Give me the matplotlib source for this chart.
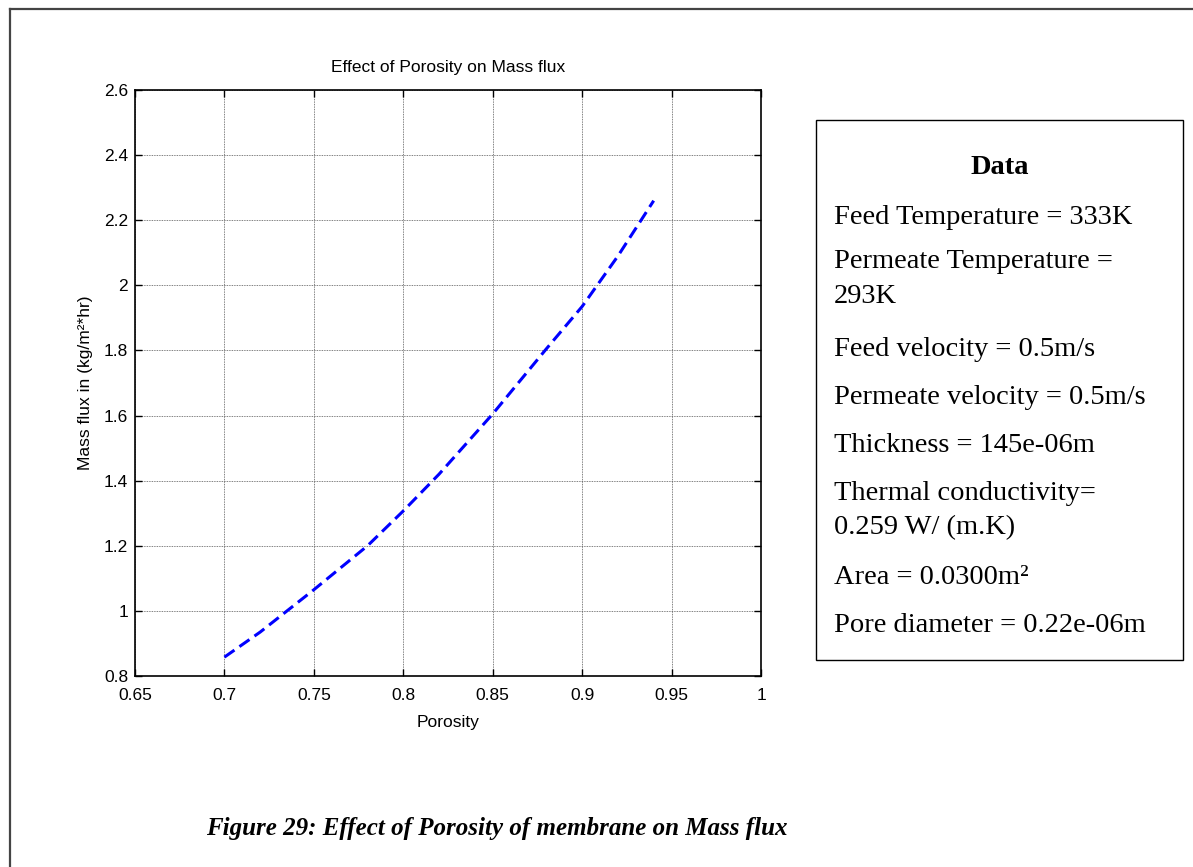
import matplotlib
matplotlib.use("Agg")
import matplotlib.pyplot as plt
from matplotlib.lines import Line2D
from matplotlib.patches import Rectangle

porosity = [0.70, 0.72, 0.75, 0.78, 0.80, 0.82, 0.85, 0.88, 0.90, 0.92, 0.94]
mass_flux = [0.858, 0.935, 1.065, 1.200, 1.307, 1.420, 1.605, 1.805, 1.935, 2.090, 2.260]

x_ticks = [0.65, 0.7, 0.75, 0.8, 0.85, 0.9, 0.95, 1.0]
x_tick_labels = ["0.65", "0.7", "0.75", "0.8", "0.85", "0.9", "0.95", "1"]
y_ticks = [0.8, 1.0, 1.2, 1.4, 1.6, 1.8, 2.0, 2.2, 2.4, 2.6]
y_tick_labels = ["0.8", "1", "1.2", "1.4", "1.6", "1.8", "2", "2.2", "2.4", "2.6"]

title = "Effect of Porosity on Mass flux"
xlabel = "Porosity"
ylabel = "Mass flux in (kg/m\u00b2*hr)"
box_title = "Data"
box_lines = [
    ("Feed Temperature = 333K", 218),
    ("Permeate Temperature =", 261),
    ("293K", 297),
    ("Feed velocity = 0.5m/s", 350),
    ("Permeate velocity = 0.5m/s", 398),
    ("Thickness = 145e-06m", 446),
    ("Thermal conductivity=", 493),
    ("0.259 W/ (m.K)", 528),
    ("Area = 0.0300m\u00b2", 578),
    ("Pore diameter = 0.22e-06m", 626),
]
caption = "Figure 29: Effect of Porosity of membrane on Mass flux"

W, H = 1193, 867
fig = plt.figure(figsize=(W / 100, H / 100), dpi=100)
fig.patch.set_facecolor("white")

def fx(px):
    return px / W

def fy(py):
    return 1 - py / H

# outer page border (top and left visible)
fig.add_artist(Line2D([fx(10), fx(10)], [fy(9), 0], transform=fig.transFigure,
                      color="#444444", lw=1.6))
fig.add_artist(Line2D([fx(10), 1], [fy(9), fy(9)], transform=fig.transFigure,
                      color="#444444", lw=1.6))

ax_l, ax_r, ax_t, ax_b = 135, 761, 90, 676
ax = fig.add_axes([fx(ax_l), fy(ax_b), fx(ax_r - ax_l), (ax_b - ax_t) / H])

sans = "Liberation Sans"
fs = 12.5

ax.plot(porosity, mass_flux, color=(0, 0, 1), lw=2.2, linestyle=(0, (4, 2)))
ax.set_xlim(0.65, 1.0)
ax.set_ylim(0.8, 2.6)
ax.set_xticks(x_ticks)
ax.set_xticklabels(x_tick_labels, fontfamily=sans, fontsize=fs)
ax.set_yticks(y_ticks)
ax.set_yticklabels(y_tick_labels, fontfamily=sans, fontsize=fs)
ax.tick_params(direction="in", length=5, width=1, top=True, right=True,
               colors="black")
ax.tick_params(axis="x", pad=9)
ax.tick_params(axis="y", pad=5)
ax.grid(True, color="#555555", linestyle=(0, (1, 1)), linewidth=0.6)
for s in ax.spines.values():
    s.set_linewidth(1.2)
    s.set_color("black")

ax.set_title(title, fontfamily=sans, fontsize=fs, pad=13)
ax.set_xlabel(xlabel, fontfamily=sans, fontsize=fs, labelpad=8)
ax.set_ylabel(ylabel, fontfamily=sans, fontsize=fs, labelpad=8)

# data box
bx_l, bx_t, bx_r, bx_b = 816, 120, 1183, 660
fig.add_artist(Rectangle((fx(bx_l), fy(bx_b)), fx(bx_r - bx_l), (bx_b - bx_t) / H,
                         transform=fig.transFigure, fill=False, edgecolor="black", lw=1.0))
serif = "Liberation Serif"
fig.text(fx(1000), fy(167), box_title, fontfamily=serif, fontsize=20.5, fontweight="bold",
         ha="center", va="center")
for txt, yy in box_lines:
    fig.text(fx(834), fy(yy), txt, fontfamily=serif, fontsize=20.5, ha="left", va="center")

fig.text(fx(497), fy(828), caption, fontfamily=serif, fontsize=18, fontweight="bold",
         fontstyle="italic", ha="center", va="center")

fig.savefig("out.png", dpi=100)
